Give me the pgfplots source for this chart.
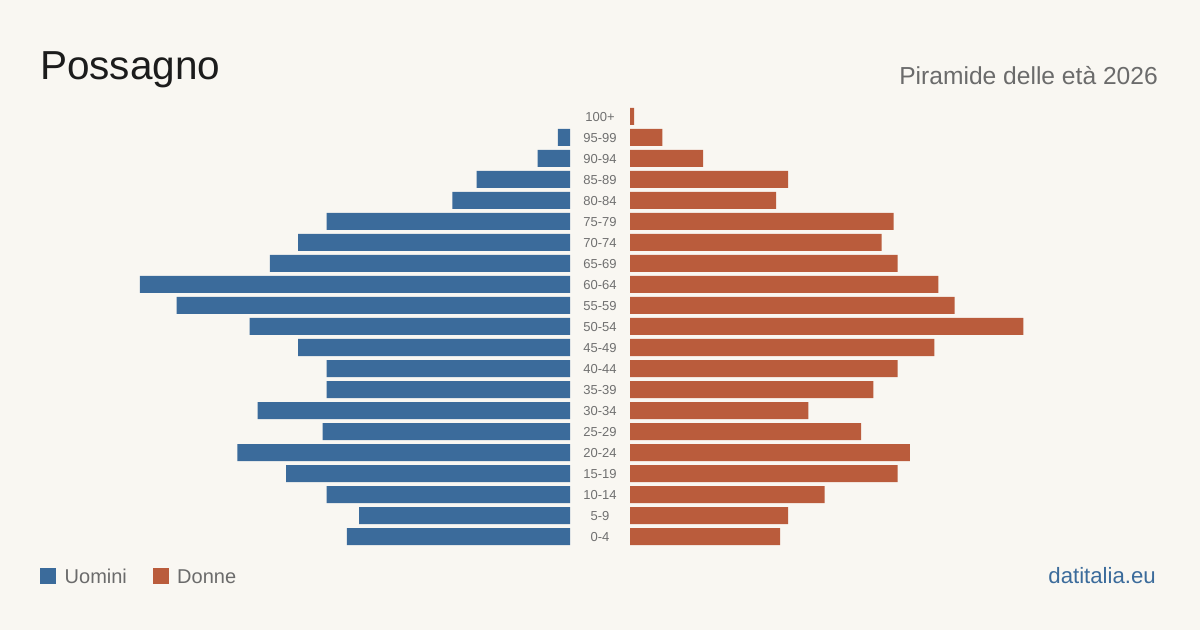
\documentclass[border=0pt]{standalone}
\usepackage{fontspec}
\setmainfont{Liberation Sans}
\usepackage{pgfplots}
\pgfplotsset{compat=1.18}
\usepackage{pgfplotstable}

\definecolor{bg}{HTML}{F9F7F2}
\definecolor{men}{HTML}{3B6B9B}
\definecolor{women}{HTML}{BA5C3C}
\definecolor{ink}{HTML}{1C1C1C}
\definecolor{muted}{HTML}{6B6B6B}
\definecolor{agegray}{HTML}{707070}

% Residents by five-year age group
\pgfplotstableread{
idx group men women
0 0-4 55 37
1 5-9 52 39
2 10-14 60 48
3 15-19 70 66
4 20-24 82 69
5 25-29 61 57
6 30-34 77 44
7 35-39 60 60
8 40-44 60 66
9 45-49 67 75
10 50-54 79 97
11 55-59 97 80
12 60-64 106 76
13 65-69 74 66
14 70-74 67 62
15 75-79 60 65
16 80-84 29 36
17 85-89 23 39
18 90-94 8 18
19 95-99 3 8
20 100+ 0 1
}\pyramid

\pgfplotsset{
  pyr/.style={
    xbar, scale only axis,
    width=430pt, height=441pt,
    xmin=0, xmax=106, ymin=-0.5, ymax=20.5,
    bar width=17pt,
    axis line style={draw=none},
    tick style={draw=none},
    major tick length=0pt,
    xtick=\empty,
    clip=false,
    % empty groups get no bar at all
    x filter/.expression={x==0 ? nan : x},
    unbounded coords=discard,
  }
}

\begin{document}
\begin{tikzpicture}
\fill[bg] (0,0) rectangle (1200pt,630pt);
\useasboundingbox (0,0) rectangle (1200pt,630pt);

% title and subtitle
\node[anchor=base west, inner sep=0, text=ink] at (40pt,550pt)
  {\fontsize{40.5}{40}\selectfont Possagno};
\node[anchor=base east, inner sep=0, text=muted] at (1158pt,545.5pt)
  {\fontsize{24.6}{25}\selectfont Piramide delle età 2026};

% men (left half)
\begin{axis}[pyr, at={(140pt,83pt)}, anchor=south west,
  x dir=reverse, ytick=\empty]
  \addplot[fill=men, draw=none] table[x=men, y=idx] {\pyramid};
\end{axis}

% women (right half) with age group labels in the gap
\begin{axis}[pyr, at={(630pt,83pt)}, anchor=south west,
  ytick={0,...,20},
  yticklabels from table={\pyramid}{group},
  yticklabel style={anchor=center, xshift=-30pt, yshift=-1pt, text=agegray,
    font=\fontsize{13}{13}\selectfont}]
  \addplot[fill=women, draw=none] table[x=women, y=idx] {\pyramid};
\end{axis}

% legend
\fill[men] (40pt,46pt) rectangle (56pt,62pt);
\node[anchor=base west, inner sep=0, text=muted] at (64.5pt,46.7pt)
  {\fontsize{20}{20}\selectfont Uomini};
\fill[women] (153pt,46pt) rectangle (169pt,62pt);
\node[anchor=base west, inner sep=0, text=muted] at (177pt,46.7pt)
  {\fontsize{20}{20}\selectfont Donne};

% source
\node[anchor=base east, inner sep=0, text=men] at (1156pt,46.7pt)
  {\fontsize{22.2}{22}\selectfont datitalia.eu};
\end{tikzpicture}
\end{document}
